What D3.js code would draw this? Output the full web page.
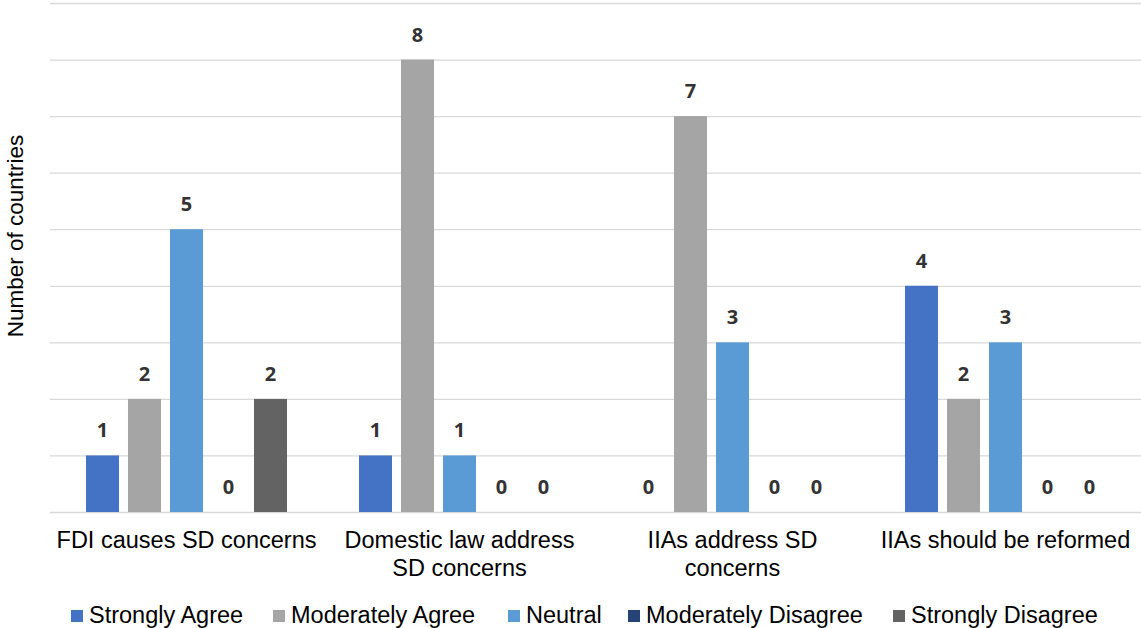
<!DOCTYPE html>
<html>
<head>
<meta charset="utf-8">
<script src="https://cdn.jsdelivr.net/npm/d3@7"></script>
<style>
  html, body { margin: 0; padding: 0; background: #fff; }
  svg { display: block; }
</style>
</head>
<body>
<svg id="chart" width="1141" height="628"></svg>
<script>
// Survey responses: number of countries per statement and answer
const categories = [
  "FDI causes SD concerns",
  "Domestic law address\nSD concerns",
  "IIAs address SD\nconcerns",
  "IIAs should be reformed"
];
const seriesNames = [
  "Strongly Agree",
  "Moderately Agree",
  "Neutral",
  "Moderately Disagree",
  "Strongly Disagree"
];
const stronglyAgree      = [1, 1, 0, 4];
const moderatelyAgree    = [2, 8, 7, 2];
const neutral            = [5, 1, 3, 3];
const moderatelyDisagree = [0, 0, 0, 0];
const stronglyDisagree   = [2, 0, 0, 0];
const yTicks = [0, 1, 2, 3, 4, 5, 6, 7, 8, 9];
const seriesColors = ["#4472C4", "#A5A5A5", "#5B9BD5", "#264478", "#636363"];

const seriesValues = [stronglyAgree, moderatelyAgree, neutral, moderatelyDisagree, stronglyDisagree];
const rows = categories.map((c, i) => ({
  category: c,
  values: seriesNames.map((s, j) => ({ series: s, value: seriesValues[j][i] }))
}));

const svg = d3.select("#chart");
const margin = { left: 50, right: -1, top: 3, bottom: 116 };
const W = 1141, H = 628;
const innerW = W - margin.left - margin.right;
const innerH = H - margin.top - margin.bottom;

const g = svg.append("g").attr("transform", `translate(${margin.left},${margin.top})`);

const y = d3.scaleLinear().domain([0, 9]).range([innerH, 0]);
const x0 = d3.scaleBand().domain(categories).range([0, innerW]).paddingInner(0).paddingOuter(0);
const x1 = d3.scaleBand().domain(seriesNames).range([0, x0.bandwidth()])
  .paddingInner(0.214).paddingOuter(0.857);
const color = d3.scaleOrdinal().domain(seriesNames).range(seriesColors);

// horizontal gridlines
const grid = g.append("g")
  .call(d3.axisLeft(y).tickValues(yTicks).tickSize(-innerW - 2).tickFormat(""));
grid.select(".domain").remove();
grid.selectAll(".tick line").attr("stroke", "#d9d9d9").attr("stroke-width", 1.3);

// bars
const groups = g.selectAll(".grp").data(rows).join("g")
  .attr("class", "grp")
  .attr("transform", d => `translate(${x0(d.category)},0)`);

groups.selectAll("rect").data(d => d.values).join("rect")
  .attr("x", d => x1(d.series))
  .attr("width", x1.bandwidth())
  .attr("y", d => y(d.value))
  .attr("height", d => y(0) - y(d.value))
  .attr("fill", d => color(d.series));

// value labels
groups.selectAll("text.val").data(d => d.values).join("text")
  .attr("class", "val")
  .attr("x", d => x1(d.series) + x1.bandwidth() / 2)
  .attr("y", d => y(d.value) - 18)
  .attr("text-anchor", "middle")
  .attr("font-family", "'Open Sans', sans-serif")
  .attr("font-weight", "bold")
  .attr("font-size", 20)
  .attr("fill", "#333333")
  .text(d => d.value);

// category axis labels
const xAxis = g.append("g").attr("transform", `translate(0,${innerH})`)
  .call(d3.axisBottom(x0).tickSize(0).tickFormat(""));
xAxis.select(".domain").remove();
xAxis.selectAll(".tick").each(function(d) {
  const lines = d.split("\n");
  const t = d3.select(this).append("text")
    .attr("text-anchor", "middle")
    .attr("font-family", "'Liberation Sans', Arial, sans-serif")
    .attr("font-size", 23.5)
    .attr("fill", "#000");
  lines.forEach((ln, i) => {
    t.append("tspan").attr("x", 0).attr("y", 36 + i * 28).text(ln);
  });
});

// y-axis title
svg.append("text")
  .attr("transform", `translate(23,236) rotate(-90)`)
  .attr("text-anchor", "middle")
  .attr("font-family", "'Liberation Sans', Arial, sans-serif")
  .attr("font-size", 22.5)
  .attr("fill", "#000")
  .text("Number of countries");

// legend
const legendX = [71, 273, 508, 628, 893];
const legend = svg.append("g").selectAll("g").data(seriesNames).join("g")
  .attr("transform", (d, i) => `translate(${legendX[i]},610)`);
legend.append("rect").attr("width", 12).attr("height", 12).attr("fill", d => color(d));
legend.append("text")
  .attr("x", 18).attr("y", 12.5)
  .attr("font-family", "'Liberation Sans', Arial, sans-serif")
  .attr("font-size", 23.5)
  .attr("fill", "#000")
  .text(d => d);
</script>
</body>
</html>
